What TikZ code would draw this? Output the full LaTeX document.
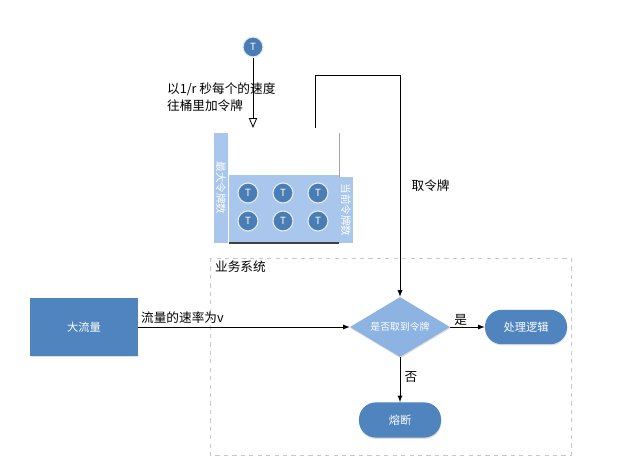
\documentclass[tikz,border=0pt]{standalone}
\usepackage{fontspec}
\newfontfamily\cjk{Noto Sans CJK SC}
\usetikzlibrary{arrows,shapes,shadows}
\usetikzlibrary{positioning}
\definecolor{bluedark}{HTML}{4F84BF}
\definecolor{bluemid}{HTML}{8DB3E2}
\definecolor{bluelight}{HTML}{A9C6EC}
\definecolor{tokblue}{HTML}{4A7DB3}
\definecolor{boxgray}{HTML}{C8C8C8}
\tikzstyle{tok}=[circle,fill=tokblue,draw=white!85!tokblue,line width=0.8pt,minimum
                size=0.5cm,inner sep=0,text=white,font=\cjk\fontsize{7}{7}\selectfont]
\tikzstyle{flow}=[draw=none,fill=bluedark,text=white,inner sep=0,
                drop shadow={opacity=0.25,shadow xshift=0.3pt,shadow yshift=-0.9pt},
                font=\cjk\fontsize{8}{9}\selectfont]
\tikzstyle{elabel}=[fill=none,text=black,draw=none,inner sep=2pt,
                font=\cjk\fontsize{9}{12}\selectfont]
\tikzstyle{side}=[fill=bluelight,draw=none,inner sep=0,text=white,
                font=\cjk\fontsize{7.5}{8}\selectfont]

\begin{document}
\begin{tikzpicture}[x=0.025cm,y=-0.025cm,>=latex]
\path[use as bounding box,fill=white] (0,0) rectangle (640,472);
% business system frame
\draw[boxgray,dashed,line width=0.6pt] (210,258) rectangle (571,455);
\node[elabel,anchor=west] (sys) at (212,267) {业务系统};
% bucket
\fill[bluelight] (229,175) rectangle (339,243);
\draw[gray!70,line width=0.7pt] (339,133) -- (339,243);
\draw[black!75,line width=1.2pt] (229,243) -- (339,243);
\node[side,minimum width=0.33cm,minimum height=2.75cm] (maxbar) at (221,188)
  {\rotatebox{-90}{最大令牌数}};
\node[side,minimum width=0.33cm,minimum height=1.65cm] (curbar) at (346,210)
  {\rotatebox{-90}{当前令牌数}};
\foreach \i/\x in {1/248,2/283,3/318}{
  \node[tok] (t\i a) at (\x,193) {T};
  \node[tok] (t\i b) at (\x,221) {T};
}
% incoming token
\node[tok] (tin) at (253,47) {T};
\coordinate (tinEnd) at (253,128);
\coordinate (takeS) at (315,128);
\coordinate (takeT) at (400,75);
% flow nodes
\node[flow,minimum width=2.68cm,minimum height=1.43cm] (big) at (84,327) {大流量};
\node[flow,diamond,fill=bluemid,minimum width=2.5cm,minimum height=1.5cm,
  aspect=1.67,font=\cjk\fontsize{7}{8}\selectfont] (dec) at (400,327) {是否取到令牌};
\node[flow,rounded corners=0.42cm,minimum width=2.05cm,minimum height=0.86cm]
  (proc) at (526,327) {处理逻辑};
\node[flow,rounded corners=0.42cm,minimum width=2.05cm,minimum height=0.88cm]
  (fuse) at (400,420) {熔断};
% connectors
\draw[->,>=open triangle 45,line width=0.6pt] (tin) -- (tinEnd);
\node[elabel,align=left,anchor=west] (rate) at (164,97) {以1/r 秒每个的速度\\往桶里加令牌};
\draw[->,line width=0.6pt] (takeS) |- (takeT) -- (dec.north)
  node[elabel,pos=0.5,right=6pt] {取令牌};
\path[->,line width=0.6pt]
  (big) edge node[elabel,pos=0,anchor=south west] {流量的速率为v} (dec)
  (dec) edge node[elabel,pos=0.3,above=-1pt] {是} (proc)
  (dec) edge node[elabel,pos=0.45,right=1pt] {否} (fuse);
\end{tikzpicture}
\end{document}
